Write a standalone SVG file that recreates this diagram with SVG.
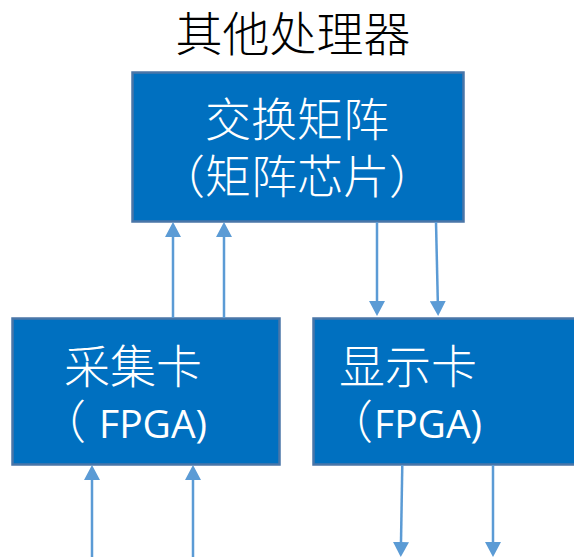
<svg xmlns="http://www.w3.org/2000/svg" width="574" height="557" viewBox="0 0 574 557">
<style>
.box{fill:#0070C0;stroke:#4A76A8;stroke-width:2.5}
.cjk{font-family:"Noto Sans CJK SC","Noto Sans",sans-serif;fill:#ffffff;font-size:46px;font-weight:300}
.lat{font-family:"Open Sans","Noto Sans CJK SC",sans-serif;fill:#ffffff;font-size:39px}
.title{font-family:"Noto Sans CJK SC",sans-serif;fill:#000000;font-size:47px;font-weight:300}
.conn{stroke:#5B9BD5;stroke-width:2.5;fill:none}
</style>
<defs>
<marker id="ah" markerUnits="userSpaceOnUse" markerWidth="16" markerHeight="16" refX="0" refY="8" orient="auto" viewBox="0 0 16 16">
<path d="M0,0 L15,8 L0,16 z" fill="#5B9BD5"/>
</marker>
</defs>
<rect width="574" height="557" fill="#ffffff"/>
<g id="title">
<text class="title" x="293" y="51" text-anchor="middle">其他处理器</text>
</g>
<g id="switch">
<rect class="box" x="132.5" y="72.5" width="331" height="149"/>
<text class="cjk" x="297" y="136" text-anchor="middle">交换矩阵</text>
<text class="cjk" x="297" y="193" text-anchor="middle">（矩阵芯片）</text>
</g>
<g id="capture">
<rect class="box" x="12.5" y="318.5" width="267" height="146"/>
<text class="cjk" x="133" y="383" text-anchor="middle">采集卡</text>
<text y="438"><tspan class="cjk" x="40">（</tspan><tspan class="lat" x="99">FPGA)</tspan></text>
</g>
<g id="display">
<rect class="box" x="313.5" y="318.5" width="270" height="146"/>
<text class="cjk" x="408" y="383" text-anchor="middle">显示卡</text>
<text y="438"><tspan class="cjk" x="327">（</tspan><tspan class="lat" x="374">FPGA)</tspan></text>
</g>
<g id="connectors">
<line class="conn" x1="173" y1="318" x2="173" y2="237" marker-end="url(#ah)"/>
<line class="conn" x1="224" y1="318" x2="224" y2="237" marker-end="url(#ah)"/>
<line class="conn" x1="377" y1="222" x2="377" y2="301" marker-end="url(#ah)"/>
<line class="conn" x1="436" y1="222" x2="437.8" y2="301" marker-end="url(#ah)"/>
<line class="conn" x1="92" y1="557" x2="92" y2="480" marker-end="url(#ah)"/>
<line class="conn" x1="193" y1="557" x2="193" y2="480" marker-end="url(#ah)"/>
<line class="conn" x1="402.3" y1="465" x2="401" y2="542" marker-end="url(#ah)"/>
<line class="conn" x1="493" y1="465" x2="493" y2="542" marker-end="url(#ah)"/>
</g>
</svg>
